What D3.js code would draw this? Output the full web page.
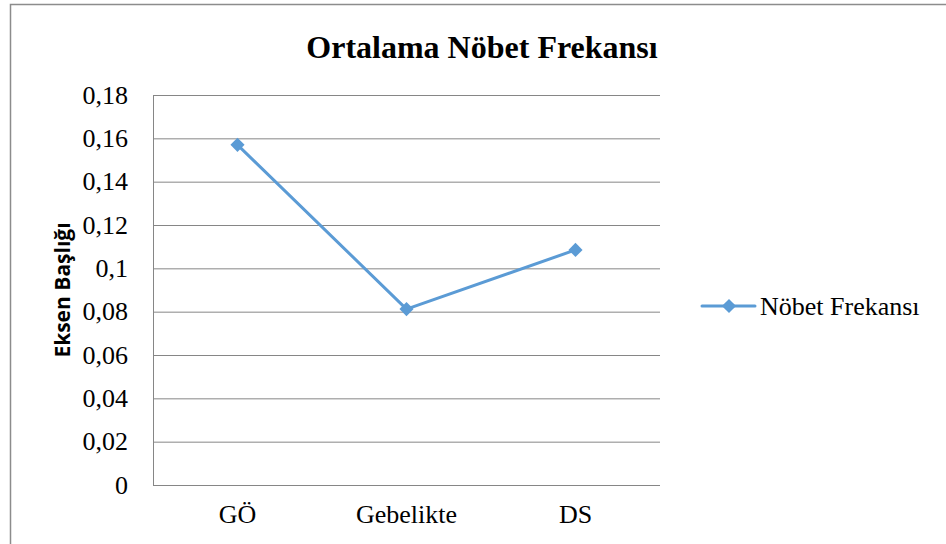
<!DOCTYPE html>
<html lang="tr">
<head>
<meta charset="UTF-8">
<title>Ortalama Nöbet Frekansı</title>
<style>
  body { margin: 0; background: #fff; }
  svg { display: block; }
</style>
</head>
<body>
<div class="chart"></div>
<script src="https://d3js.org/d3.v7.min.js"></script>
<script>
const categories = ["GÖ", "Gebelikte", "DS"];
const values = [0.157, 0.0812, 0.1085];
const yTicks = [0, 0.02, 0.04, 0.06, 0.08, 0.1, 0.12, 0.14, 0.16, 0.18];
const seriesName = "Nöbet Frekansı";

const width = 946, height = 544;
const plot = { left: 153, right: 660, top: 95, bottom: 485 };
const blue = "#5B9BD5", grid = "#868686";
const serif = "'Liberation Serif', 'Times New Roman', serif";

const svg = d3.select(".chart").append("svg")
  .attr("width", width).attr("height", height);

// outer frame
svg.append("rect")
  .attr("x", 10.5).attr("y", 4.5)
  .attr("width", width).attr("height", height)
  .attr("fill", "#fff").attr("stroke", "#8c8c8c").attr("stroke-width", 1.5);

const x = d3.scaleBand().domain(categories).range([plot.left, plot.right]);
const y = d3.scaleLinear().domain([0, 0.18]).range([plot.bottom, plot.top]);

const fmt = d => String(d).replace(".", ",");

// gridlines + y axis
const yAxis = d3.axisLeft(y).tickValues(yTicks).tickFormat(fmt)
  .tickSize(-(plot.right - plot.left)).tickPadding(25);
const yg = svg.append("g").attr("transform", `translate(${plot.left},0)`).call(yAxis);
yg.select(".domain").attr("stroke", grid).attr("d", `M0.5,${plot.top}V${plot.bottom}`);
yg.selectAll(".tick line").attr("stroke", grid).attr("stroke-width", 1);
yg.selectAll(".tick text")
  .attr("font-family", serif).attr("font-size", 26).attr("fill", "#000");

// x axis
const xAxis = d3.axisBottom(x).tickSize(0).tickPadding(20);
const xg = svg.append("g").attr("transform", `translate(0,${plot.bottom})`).call(xAxis);
xg.select(".domain").attr("stroke", grid).attr("d", `M${plot.left},0.5H${plot.right}`);
xg.selectAll(".tick text")
  .attr("font-family", serif).attr("font-size", 26).attr("fill", "#000");

// line
const cx = d => x(d) + x.bandwidth() / 2;
const line = d3.line().x((d, i) => cx(categories[i])).y(d => y(d));
svg.append("path").datum(values)
  .attr("fill", "none").attr("stroke", blue).attr("stroke-width", 3)
  .attr("stroke-linejoin", "round").attr("d", line);

const diamond = d3.symbol().type(d3.symbolSquare).size(100);
svg.append("g").selectAll("path.marker")
  .data(values).join("path")
  .attr("class", "marker")
  .attr("fill", blue)
  .attr("d", diamond)
  .attr("transform", (d, i) => `translate(${cx(categories[i])},${y(d)}) rotate(45)`);

// title
svg.append("text")
  .attr("x", 482).attr("y", 58).attr("text-anchor", "middle")
  .attr("font-family", serif).attr("font-weight", "bold").attr("font-size", 32)
  .text("Ortalama Nöbet Frekansı");

// y axis title
svg.append("text")
  .attr("transform", `translate(70,${(plot.top + plot.bottom) / 2}) rotate(-90)`)
  .attr("text-anchor", "middle")
  .attr("font-family", "'Open Sans', 'Liberation Sans', sans-serif")
  .attr("font-weight", "bold").attr("font-size", 21)
  .text("Eksen Başlığı");

// legend
const lg = svg.append("g").attr("transform", "translate(702,306)");
lg.append("line").attr("x1", 0).attr("x2", 53).attr("y1", 0).attr("y2", 0)
  .attr("stroke", blue).attr("stroke-width", 3).attr("stroke-linecap", "round");
lg.append("path").attr("d", diamond).attr("fill", blue)
  .attr("transform", "translate(27,0) rotate(45)");
lg.append("text").attr("x", 58).attr("y", 9)
  .attr("font-family", serif).attr("font-size", 26).text(seriesName);
</script>
</body>
</html>
